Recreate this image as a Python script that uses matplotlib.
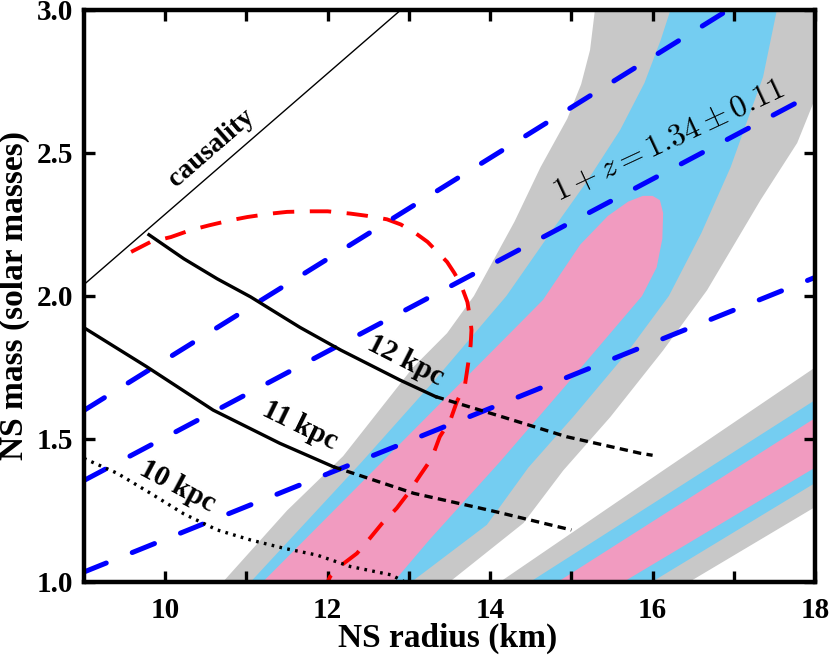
import matplotlib
matplotlib.use("Agg")
import matplotlib.pyplot as plt

plt.rcParams['font.family'] = ['Liberation Serif', 'DejaVu Serif']
plt.rcParams['font.weight'] = 'bold'
plt.rcParams['axes.labelweight'] = 'bold'
plt.rcParams['mathtext.fontset'] = 'cm'

# confidence regions, main band (radius km, mass)
gray_left = [(10.71, 1.0), (11.5, 1.25), (12.19, 1.44), (13.05, 1.75), (13.47, 1.87),
             (13.8, 2.0), (14.3, 2.26), (14.62, 2.45), (14.95, 2.62), (15.12, 2.74),
             (15.23, 2.86), (15.29, 3.0)]
gray_right = [(18.0, 3.0), (18.0, 2.69), (17.78, 2.535), (17.33, 2.336), (16.67, 2.02),
              (16.13, 1.81), (15.48, 1.577), (14.9, 1.39), (14.41, 1.206), (13.5, 1.0)]
blue_left = [(11.05, 1.0), (12.42, 1.42), (13.3, 1.7), (14.2, 2.0), (14.74, 2.22),
             (15.19, 2.40), (15.6, 2.58), (15.9, 2.745), (16.1, 2.895), (16.22, 3.0)]
blue_right = [(17.53, 3.0), (17.36, 2.766), (17.2, 2.64), (16.96, 2.45), (16.6, 2.22),
              (16.2, 2.0), (15.68, 1.8), (15.03, 1.58), (14.47, 1.4), (13.96, 1.2), (13.03, 1.0)]
pink_left = [(11.2, 1.0), (12.67, 1.42), (14.28, 1.88), (14.65, 1.986), (15.11, 2.18),
             (15.45, 2.28), (15.7, 2.33), (15.88, 2.35), (16.0, 2.35)]
pink_right = [(16.09, 2.335), (16.13, 2.29), (16.12, 2.2), (16.05, 2.10), (15.87, 2.0),
              (14.97, 1.7), (14.12, 1.42), (13.26, 1.15), (12.81, 1.0)]

# second (lower right) band
low_gray = [(14.12, 1.0), (16.13, 1.39), (18.0, 1.75), (18.0, 1.262), (16.45, 1.0)]
low_blue = [(14.49, 1.0), (18.0, 1.636), (18.0, 1.346), (15.99, 1.0)]
low_pink = [(14.83, 1.0), (18.0, 1.573), (18.0, 1.40), (15.64, 1.0)]

# redshift lines 1+z = 1.45, 1.34, 1.23 (end points)
z_lines = [[(9.0, 1.60), (16.93, 3.0)],
           [(9.0, 1.355), (18.0, 2.71)],
           [(9.0, 1.035), (18.0, 2.065)]]

causality = [(9.0, 2.04), (12.9, 3.0)]

# red dashed contour
red_r = [9.58, 9.82, 10.07, 10.31, 10.54, 10.81, 11.01, 11.30, 11.50, 11.79, 12.0,
         12.28, 12.49, 12.73, 12.90, 13.08, 13.23, 13.35, 13.47, 13.56, 13.64, 13.72,
         13.76, 13.77, 13.76, 13.73, 13.69, 13.59, 13.51, 13.38, 13.28, 13.14, 12.99,
         12.85, 12.67, 12.52, 12.36, 12.17, 12.03, 12.0]
red_m = [2.154, 2.189, 2.206, 2.23, 2.247, 2.265, 2.276, 2.288, 2.294, 2.296, 2.296,
         2.288, 2.28, 2.268, 2.25, 2.22, 2.189, 2.154, 2.119, 2.08, 2.04, 1.979,
         1.909, 1.881, 1.829, 1.765, 1.689, 1.63, 1.566, 1.508, 1.432, 1.374, 1.31,
         1.258, 1.205, 1.153, 1.10, 1.059, 1.019, 1.0]

# distance curves
d12_r = [9.80, 10.23, 10.64, 11.05, 11.46, 11.66, 12.16, 12.48, 12.89, 13.33,
         14.12, 14.94, 15.85, 16.0]
d12_m = [2.214, 2.13, 2.06, 1.997, 1.925, 1.89, 1.811, 1.765, 1.706, 1.648,
         1.58, 1.508, 1.45, 1.443]
d11_r = [9.0, 9.77, 10.59, 11.41, 12.07, 13.06, 13.88, 14.08, 15.0]
d11_m = [1.889, 1.753, 1.601, 1.485, 1.403, 1.31, 1.258, 1.245, 1.182]
d10_r = [9.0, 9.41, 9.82, 10.23, 10.64, 11.05, 11.46, 11.87, 12.28, 12.78, 12.95]
d10_m = [1.432, 1.38, 1.31, 1.238, 1.182, 1.147, 1.118, 1.094, 1.054, 1.025, 1.0]

gray_c = '#c8c8c8'
blue_c = '#74cdf1'
pink_c = '#f19bc0'

fig = plt.figure(figsize=(8.3, 6.64), dpi=100)
ax = fig.add_axes([0.1012, 0.1235, 0.8808, 0.8615])


def fill_poly(pts, color):
    xs = [p[0] for p in pts]
    ys = [p[1] for p in pts]
    ax.fill(xs, ys, color=color, lw=0, zorder=1)


fill_poly(gray_left + gray_right, gray_c)
fill_poly(blue_left + blue_right, blue_c)
fill_poly(pink_left + pink_right, pink_c)
fill_poly(low_gray, gray_c)
fill_poly(low_blue, blue_c)
fill_poly(low_pink, pink_c)

# causality
ax.plot([p[0] for p in causality], [p[1] for p in causality], color='black', lw=1.0, zorder=3)

# red contour
ax.plot(red_r, red_m, color='red', lw=2.8, dashes=(5.5, 4), zorder=3)

# redshift lines
for ln in z_lines:
    ax.plot([p[0] for p in ln], [p[1] for p in ln], color='#0000ff', lw=3.6,
            dashes=(4.8, 5.6), dash_capstyle='round', zorder=4)

# distance curves: solid near the left, dashed further out
ax.plot(d12_r[:10], d12_m[:10], color='black', lw=2.4, zorder=5)
ax.plot(d12_r[9:], d12_m[9:], color='black', lw=2.4, dashes=(2.5, 1.6), zorder=5)
ax.plot(d11_r[:5], d11_m[:5], color='black', lw=2.4, zorder=5)
ax.plot(d11_r[4:], d11_m[4:], color='black', lw=2.4, dashes=(2.5, 1.6), zorder=5)
ax.plot(d10_r, d10_m, color='black', lw=2.4, dashes=(0.8, 1.6), zorder=5)

ax.text(10.57, 2.517, 'causality', fontsize=20, rotation=41, ha='center', va='center',
        rotation_mode='anchor', zorder=6)
ax.text(12.96, 1.776, '12 kpc', fontsize=21, rotation=-27, ha='center', va='center',
        rotation_mode='anchor', zorder=6)
ax.text(11.66, 1.549, '11 kpc', fontsize=21, rotation=-26, ha='center', va='center',
        rotation_mode='anchor', zorder=6)
ax.text(10.15, 1.334, '10 kpc', fontsize=21, rotation=-28, ha='center', va='center',
        rotation_mode='anchor', zorder=6)
ax.text(16.2, 2.54, r'$1 + z = 1.34 \pm 0.11$', fontsize=23, rotation=25,
        ha='center', va='center', rotation_mode='anchor', zorder=6)

ax.set_xlim(9, 18)
ax.set_ylim(1.0, 3.0)
ax.set_xticks([10, 12, 14, 16, 18])
ax.set_xticks([11, 13, 15, 17], minor=True)
ax.set_yticks([1.0, 1.5, 2.0, 2.5, 3.0])
ax.set_yticklabels(['1.0', '1.5', '2.0', '2.5', '3.0'])
ax.tick_params(which='both', direction='in', top=True, right=True, length=8, width=2.4,
               labelsize=21)
ax.tick_params(axis='x', pad=11)
ax.tick_params(axis='y', pad=8)
for s in ax.spines.values():
    s.set_linewidth(3.2)
    s.set_zorder(10)

ax.set_xlabel('NS radius (km)', fontsize=24)
ax.set_ylabel('NS mass (solar masses)', fontsize=24)
ax.xaxis.set_label_coords(0.497, -0.072)
ax.yaxis.set_label_coords(-0.074, 0.5)

fig.savefig('out.png', dpi=100)
